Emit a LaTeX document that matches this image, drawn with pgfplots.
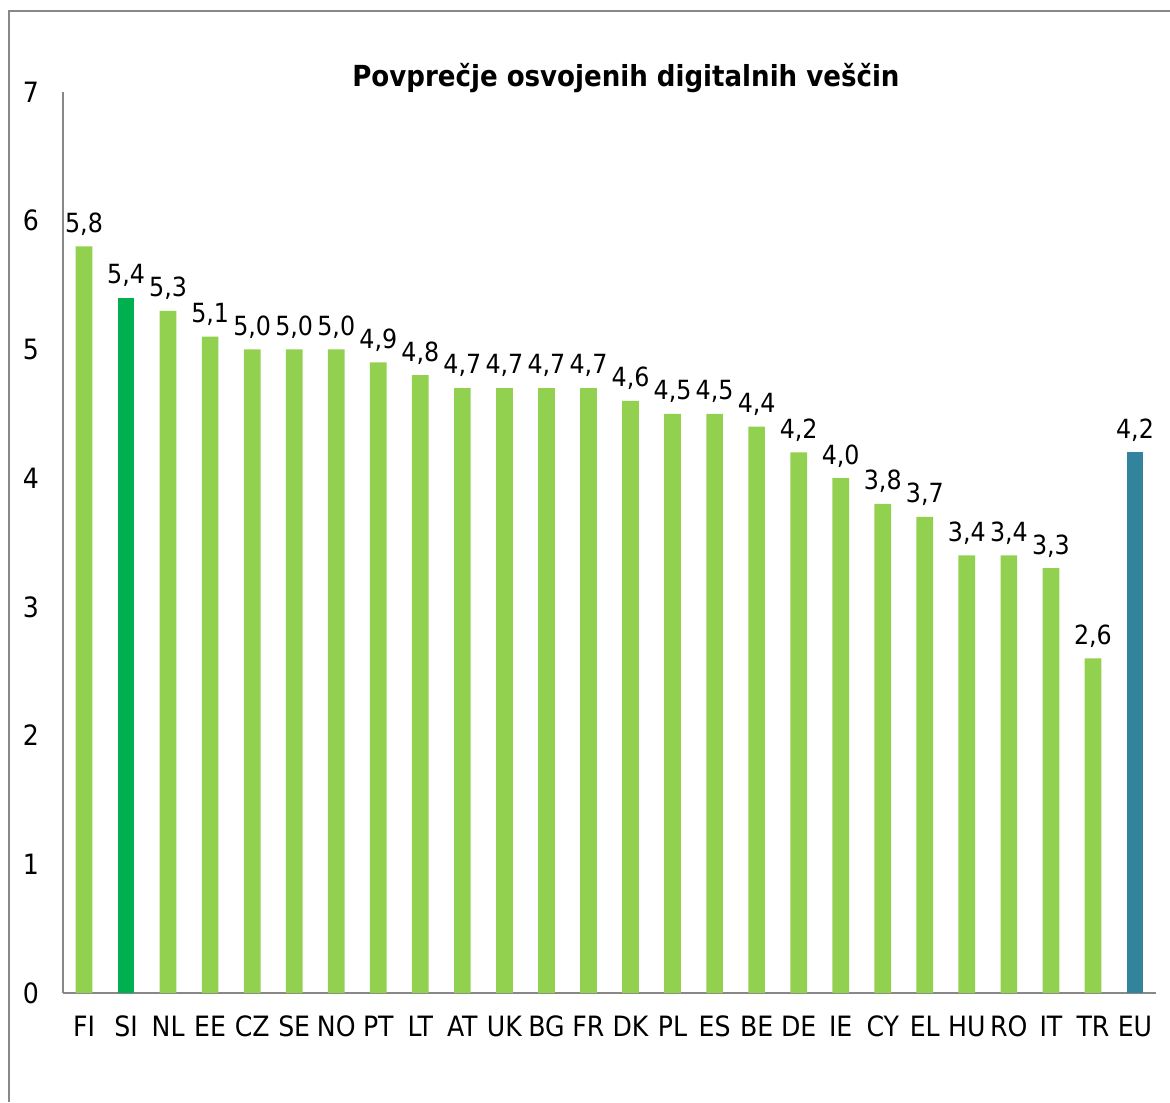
\documentclass[border=0pt]{standalone}
\usepackage{pgfplots}
\pgfplotsset{compat=1.18}
\usepackage{fontspec}
\setmainfont{DejaVu Sans Condensed}
\definecolor{lg}{HTML}{92D050}
\definecolor{dg}{HTML}{00B050}
\definecolor{tl}{HTML}{31849B}
\definecolor{ax}{HTML}{888888}
\begin{document}
\begin{tikzpicture}
\path[use as bounding box] (0,0) rectangle (585pt,551pt);
\draw[ax, line width=0.7pt] (4.5pt,0) -- (4.5pt,545.5pt) -- (585pt,545.5pt);
\node[anchor=base, font=\fontsize{14.5}{17}\selectfont\bfseries] at (313pt,507.5pt) {Povprečje osvojenih digitalnih veščin};
\begin{axis}[
  at={(31.5pt,54.5pt)}, anchor=south west,
  scale only axis, width=546.5pt, height=450.5pt,
  xmin=-0.5, xmax=25.5, ymin=0, ymax=7,
  axis x line*=bottom, axis y line*=left,
  axis line style={ax, line width=0.7pt},
  xtick={0,...,25},
  xticklabels={FI,SI,NL,EE,CZ,SE,NO,PT,LT,AT,UK,BG,FR,DK,PL,ES,BE,DE,IE,CY,EL,HU,RO,IT,TR,EU},
  ytick={0,...,7},
  major tick length=0pt,
  tick label style={font=\fontsize{14}{16}\selectfont},
  yticklabel style={xshift=-8.5pt},
  xticklabel style={yshift=-8pt},
  /pgf/number format/assume math mode=true,
  ybar, bar width=8.35pt, bar shift=0pt,
  nodes near coords,
  nodes near coords style={font=\fontsize{13.2}{16}\selectfont, yshift=2pt, inner xsep=0pt, /pgf/number format/.cd, use comma, fixed, fixed zerofill, precision=1, assume math mode=true},
]
\addplot[draw=none, fill=lg] coordinates {(0,5.8) (2,5.3) (3,5.1) (4,5.0) (5,5.0) (6,5.0) (7,4.9) (8,4.8) (9,4.7) (10,4.7) (11,4.7) (12,4.7) (13,4.6) (14,4.5) (15,4.5) (16,4.4) (17,4.2) (18,4.0) (19,3.8) (20,3.7) (21,3.4) (22,3.4) (23,3.3) (24,2.6)};
\addplot[draw=none, fill=dg] coordinates {(1,5.4)};
\addplot[draw=none, fill=tl] coordinates {(25,4.2)};
\end{axis}
\end{tikzpicture}
\end{document}
